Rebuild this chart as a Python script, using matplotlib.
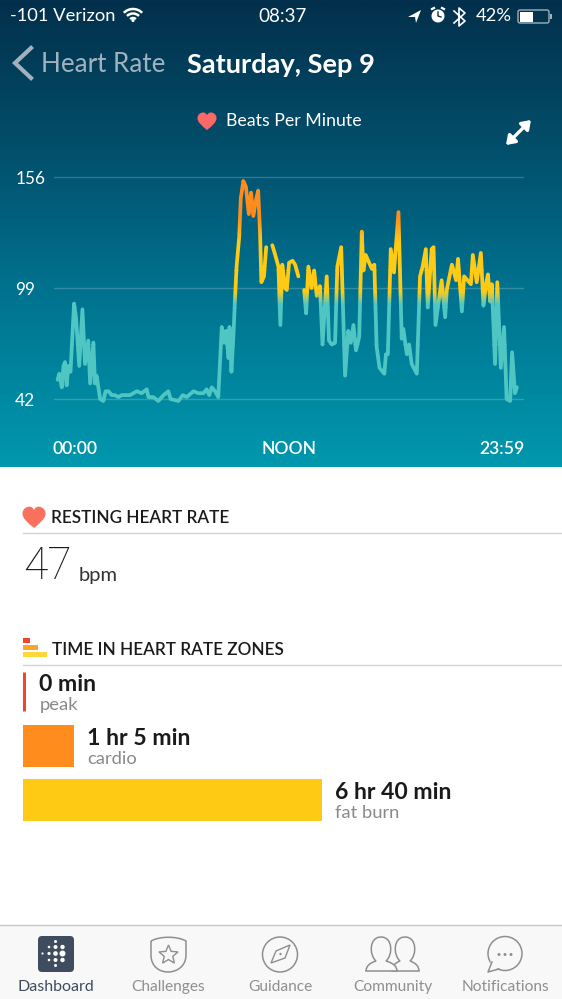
import numpy as np
import matplotlib
matplotlib.use('Agg')
import matplotlib.pyplot as plt
from matplotlib.path import Path
from matplotlib.patches import PathPatch, Rectangle, Circle, FancyBboxPatch, Polygon, Arc
from matplotlib.colors import LinearSegmentedColormap
from matplotlib.transforms import ScaledTranslation

plt.rcParams['font.family'] = ['Lato', 'DejaVu Sans']

# heart rate trace, nan = gap in the recording
minutes = [2, 7, 15, 20, 25, 30, 35, 42, 53, 59, 69, 79, 87, 97, 103, 113, 118, 123, 134, 144, 151, 160, 170, 180, 191,
           201, 211, 227, 248, 263, 279, 284, 299, 315, 331, 346, 353, 377, 391, 403, 424, 439, 455, 465, 473, 481, 491,
           501, 512, 519, 525, 533, 536, 542, 548, 553, 558, 566, 571, 579, 587, 596, 603, 610, 618, 625, 631, 635, 643,
           650, 660, 669, 678, 688, 694, 700, 709, 714, 721, 732, 740, 750, 759, 768, 774, 781, 791, 799, 807, 817, 825,
           838, 845, 854, 864, 871, 883, 895, 905, 913, 921, 929, 939, 947, 952, 959, 978, 986, 993, 1002, 1017, 1022,
           1028, 1037, 1047, 1061, 1071, 1076, 1087, 1094, 1102, 1118, 1128, 1136, 1146, 1152, 1164, 1170, 1176, 1195,
           1206, 1211, 1227, 1240, 1246, 1258, 1265, 1286, 1292, 1304, 1317, 1325, 1333, 1339, 1346, 1351, 1361, 1368,
           1379, 1389, 1397, 1408, 1414, 1423, 1429]
bpm = [52, 55, 48, 59, 61, 49, 59, 56, 91, 84, 59, 88, 60, 72, 50, 71, 50, 54, 42, 41, 46, 46, 44, 44, 43,
       44, 44, 44, 46, 45, 47, 43, 43, 41, 44, 46, 42, 41, 44, 43, 46, 45, 45, 47, 44, 48, 46,
       43, 79, 71, 77, 63, 79, 56, 74, 93, 110, 125, 145, 154, 151, 137, 148, 136, 144, 149, 127, 102, 105,
       120, np.nan, 121, 116, 110, 80, 111, 99, 98, 112, 113, 111, 105, np.nan, 98, 86, 110, 99, 108, 95, 100, 70,
       105, 72, 70, 71, 110, 120, 54, 77, 71, 80, 67, 74, 128, 108, 116, 109, 111, 69, 58, 55, 65,
       65, 119, 107, 138, 73, 78, 65, 70, 60, 55, 105, 110, 119, 89, 119, 120, 80, 103,
       84, 98, 111, 103, 114, 87, 105, 101, 116, 102, 117, 90, 101, 106, 92, 101, 60, 102,
       58, 79, 42, 41, 66, 45, 48]
y_ticks = [42, 99, 156]
x_ticks = [0, 720, 1439]
x_labels = ['00:00', 'NOON', '23:59']

zone_names = ['peak', 'cardio', 'fat burn']
zone_minutes = [0, 65, 400]
zone_labels = ['0 min', '1 hr 5 min', '6 hr 40 min']
zone_colors = ['#f2452c', '#ff8c1c', '#ffca14']

tabs = ['Dashboard', 'Challenges', 'Guidance', 'Community', 'Notifications']
tab_x = [56, 168, 280, 393, 505]

W, H = 562, 999
fig = plt.figure(figsize=(W / 100, H / 100), dpi=100, facecolor='white')


def axes_px(x0, y0, x1, y1, **kw):
    return fig.add_axes([x0 / W, 1 - y1 / H, (x1 - x0) / W, (y1 - y0) / H], **kw)


# everything that is not data goes on a full figure axes in pixel coords
ui = axes_px(0, 0, W, H)
bg = LinearSegmentedColormap.from_list('bg', [(0, '#03304c'), (0.3, '#024d69'), (0.62, '#00728f'), (1, '#0098ae')])
ui.imshow(np.linspace(0, 1, 256).reshape(-1, 1), cmap=bg, extent=[0, W, 467, 0], aspect='auto', zorder=0)
ui.set_xlim(0, W)
ui.set_ylim(H, 0)
ui.axis('off')


def label(x, y, s, size, color='white', ha='left', weight='normal', **kw):
    ui.text(x, y, s, fontsize=size, color=color, ha=ha, va='center', fontweight=weight, zorder=5, **kw)


def heart(cx, cy, w, color):
    s = w / 2
    verts = [(0, 0.95), (-0.55, 0.5), (-1, 0.15), (-1, -0.3), (-1, -0.75), (-0.6, -0.9), (-0.4, -0.9),
             (-0.2, -0.9), (-0.05, -0.75), (0, -0.6), (0.05, -0.75), (0.2, -0.9), (0.4, -0.9),
             (0.6, -0.9), (1, -0.75), (1, -0.3), (1, 0.15), (0.55, 0.5), (0, 0.95)]
    codes = [Path.MOVETO] + [Path.CURVE4] * 18
    ui.add_patch(PathPatch(Path([(cx + a * s, cy + b * s) for a, b in verts], codes), fc=color, ec='none', zorder=5))


def person(c, l, r):
    verts = [(l, 971), (l, 964), (c - 5, 961), (c - 12, 955), (c - 12, 937), (c, 937), (c + 12, 937), (c + 12, 955),
             (c + 5, 961), (r, 964), (r, 971), (l, 971)]
    codes = [Path.MOVETO, Path.CURVE3, Path.CURVE3] + [Path.CURVE4] * 6 + [Path.CURVE3, Path.CURVE3, Path.CLOSEPOLY]
    ui.add_patch(PathPatch(Path(verts, codes), fc='#f8f8f8', ec='#8f8f8f', lw=1.1))


# status bar
label(10, 16, '-101 Verizon', 13.2)
label(283, 16, '08:37', 13.6, ha='center')
label(512, 16, '42%', 13.2, ha='right')
for r in (26, 17, 8):
    ui.add_patch(Arc((133, 22), r, r, theta1=225, theta2=315, ec='white', lw=1.8, zorder=5))
ui.add_patch(Circle((133, 20.5), 1.6, fc='white', zorder=5))
ui.add_patch(Polygon([(408, 17), (421, 10), (416, 23), (415, 17)], fc='white', zorder=5))
ui.add_patch(Circle((438, 16), 6.5, fc='white', zorder=5))
ui.plot([438, 438, 441], [12, 16, 17], color='#03304c', lw=1, zorder=6)
ui.plot([432, 434], [9, 8], color='white', lw=1.6, zorder=5)
ui.plot([442, 444], [8, 9], color='white', lw=1.6, zorder=5)
ui.plot([454, 465, 459, 459, 465, 454], [11, 21, 26, 8, 13, 23], color='white', lw=1.2, zorder=5)
ui.add_patch(FancyBboxPatch((518, 10), 31, 13, boxstyle='round,pad=0,rounding_size=2', fc='none', ec='#9fb0bc', lw=1, zorder=5))
ui.add_patch(Rectangle((519.5, 11.5), 13, 10, fc='white', zorder=5))
ui.add_patch(Rectangle((550, 14), 1.5, 5, fc='#9fb0bc', zorder=5))

# nav header
ui.plot([31, 15, 31], [48, 63, 78], color='#9fb2bd', lw=3, solid_joinstyle='miter', zorder=5)
label(41, 65, 'Heart Rate', 18.7, color='#9fb2bd')
label(187, 65, 'Saturday, Sep 9', 19.6, weight='bold')
heart(207, 121, 19, '#fb6868')
label(226, 121, 'Beats Per Minute', 12.8)
ui.annotate('', xy=(531, 120), xytext=(506, 145), zorder=5,
            arrowprops=dict(arrowstyle='<|-|>,head_width=0.35,head_length=0.5', color='white', lw=2.4, shrinkA=0, shrinkB=0))

# heart rate chart, line colour follows the zones so it is drawn once per band with a clip
ax = axes_px(54, 165, 524, 415)
ax.patch.set_alpha(0)
ax.set_xlim(-9.3, 1451)
ax.set_ylim(33.8, 162.2)
for s in ax.spines.values():
    s.set_visible(False)
ax.set_yticks(y_ticks)
ax.set_yticklabels([str(v) for v in y_ticks], fontsize=12.4, color='white', ha='left')
ax.set_xticks(x_ticks)
ax.set_xticklabels(x_labels, fontsize=12.6, color='white', fontweight='semibold')
ax.tick_params(axis='y', length=0, pad=28)
ax.tick_params(axis='x', length=0, pad=19)
ax.grid(axis='y', color='white', alpha=0.2, lw=1)
ax.set_axisbelow(True)
off = [ScaledTranslation(-4 / 100, 0, fig.dpi_scale_trans), ScaledTranslation(0, 0, fig.dpi_scale_trans),
       ScaledTranslation(4 / 100, 0, fig.dpi_scale_trans)]
for lab, ha, o in zip(ax.get_xticklabels(), ['left', 'center', 'right'], off):
    lab.set_ha(ha)
    lab.set_transform(lab.get_transform() + o)

line_cm = LinearSegmentedColormap.from_list('zones', [(0, '#4fc6c3'), (91 / 160, '#4fc6c3'), (97 / 160, '#ffca14'),
                                                     (122 / 160, '#ffca14'), (136 / 160, '#ff8c1c'), (1, '#ff8c1c')])
for lo in np.arange(30, 160, 1.0):
    ln, = ax.plot(minutes, bpm, color=line_cm((lo + 0.5) / 160), lw=2.7, solid_joinstyle='round', solid_capstyle='round')
    ln.set_clip_path(Rectangle((-9.3, lo), 1461, 1.02, transform=ax.transData))

# resting heart rate
heart(34, 517, 23, '#f9705f')
label(51, 518, 'RESTING HEART RATE', 12.3, color='#1a1a1a', weight='semibold')
ui.plot([23, 562], [533, 533], color='#d4d4d4', lw=1)
label(23, 567, '47', 32, color='#1a1a1a', family=['Roboto', 'Lato'], weight='light')
label(79, 576, 'bpm', 14.5, color='#333333')

# zones header
ui.add_patch(Rectangle((23, 638), 7, 5, fc='#f2452c'))
ui.add_patch(Rectangle((23, 645), 15, 5, fc='#ffa32b'))
ui.add_patch(Rectangle((23, 652), 24, 5, fc='#ffd73a'))
label(52, 650, 'TIME IN HEART RATE ZONES', 12.3, color='#1a1a1a', weight='semibold')
ui.plot([23, 562], [665, 665], color='#d4d4d4', lw=1)

# zone bars, edge keeps the 0 min bar visible as a thin line
zones = axes_px(24, 664, 320, 826)
zones.set_xlim(0, 400)
zones.set_ylim(2.5, -0.5)
zones.axis('off')
zones.patch.set_alpha(0)
ypos = np.arange(len(zone_names))
zones.barh(ypos, zone_minutes, height=39 / 54, color=zone_colors, edgecolor=zone_colors, linewidth=2.16, clip_on=False)
for i in ypos:
    zones.annotate(zone_labels[i], xy=(zone_minutes[i], i), xytext=(11, 4.6), textcoords='offset points',
                   fontsize=16.6, fontweight='bold', color='#1a1a1a', va='center', annotation_clip=False)
    zones.annotate(zone_names[i], xy=(zone_minutes[i], i), xytext=(11, -10.4), textcoords='offset points',
                   fontsize=13.2, color='#8a8a8a', va='center', annotation_clip=False)

# tab bar
ui.add_patch(Rectangle((0, 925), W, 74, fc='#f8f8f8', ec='none'))
ui.plot([0, W], [925, 925], color='#c8c8c8', lw=1)
for x, name in zip(tab_x, tabs):
    label(x, 987, name, 11.5 if name == 'Dashboard' else 11.2, color='#3f4c60' if name == 'Dashboard' else '#8f8f8f', ha='center')
ui.add_patch(FancyBboxPatch((38, 936), 36, 36, boxstyle='round,pad=0,rounding_size=4', fc='#3f4c60', ec='none'))
for dx, dy, r in [(0, -12, 1.5), (-6.5, -6.5, 1.3), (0, -6.5, 2), (-13, 0, 1.1), (-6.5, 0, 1.6), (0, 0, 2.3), (7, 0, 3),
                  (-6.5, 6.5, 1.3), (0, 6.5, 2), (0, 12, 1.5), (7, -6.5, 2.2), (7, 6.5, 2.2)]:
    ui.add_patch(Circle((55.5 + dx, 953.5 + dy), r, fc='white', ec='none'))
gray = '#8f8f8f'
# challenges badge
ui.add_patch(PathPatch(Path([(151, 941), (160, 936), (177, 936), (186, 941), (186, 955), (186, 967), (176, 972),
                             (168, 972), (160, 972), (151, 967), (151, 955), (151, 941)],
                            [Path.MOVETO, Path.CURVE4, Path.CURVE4, Path.CURVE4, Path.LINETO, Path.CURVE4, Path.CURVE4,
                             Path.CURVE4, Path.CURVE4, Path.CURVE4, Path.CURVE4, Path.LINETO]), fc='none', ec=gray, lw=1.1))
ang = np.deg2rad(np.arange(0, 360, 36) - 90)
rad = np.tile([10, 4.5], 5)
ui.add_patch(Polygon(np.c_[168.5 + rad * np.cos(ang), 955 + rad * np.sin(ang)], fc='none', ec=gray, lw=1))
# guidance compass
ui.add_patch(Circle((280, 954.5), 17.5, fc='none', ec=gray, lw=1.1))
ui.add_patch(Polygon([(290, 945), (285, 958), (271, 963), (276, 951)], fc='none', ec=gray, lw=1))
ui.add_patch(Circle((280.5, 954), 1.2, fc=gray))
# community people, she sits behind him
person(405, 392, 419)
person(381, 366, 397)
# notifications bubble
ui.add_patch(Circle((505, 953.5), 17, fc='#f8f8f8', ec=gray, lw=1.1))
ui.add_patch(Polygon([(491, 960), (489, 971), (499, 968)], fc='#f8f8f8', ec='none'))
ui.plot([492, 488, 499], [962, 972, 969], color=gray, lw=1.1)
for dx in (-6, 0, 6):
    ui.add_patch(Circle((505 + dx, 954.5), 1.5, fc=gray, ec='none'))

fig.savefig('out.png', dpi=100)
